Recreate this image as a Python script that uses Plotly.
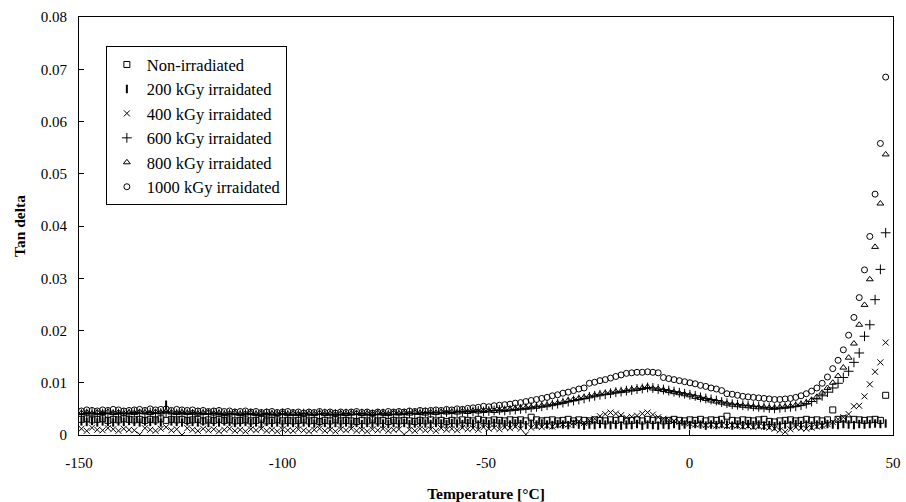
import plotly.graph_objects as go

# temperature grid (°C), shared by all samples
temp = [
    -149.4, -148.1, -146.8, -145.5, -144.2, -142.9, -141.6, -140.3, -139.0, -137.7,
    -136.4, -135.1, -133.8, -132.5, -131.2, -129.9, -128.6, -127.3, -126.0, -124.7,
    -123.4, -122.1, -120.8, -119.5, -118.2, -116.9, -115.6, -114.3, -113.0, -111.7,
    -110.4, -109.1, -107.8, -106.5, -105.2, -103.9, -102.6, -101.3, -100.0, -98.7,
    -97.4, -96.1, -94.8, -93.5, -92.2, -90.9, -89.6, -88.3, -87.0, -85.7,
    -84.4, -83.1, -81.8, -80.5, -79.2, -77.9, -76.6, -75.3, -74.0, -72.7,
    -71.4, -70.1, -68.8, -67.5, -66.2, -64.9, -63.6, -62.3, -61.0, -59.7,
    -58.4, -57.1, -55.8, -54.5, -53.2, -51.9, -50.6, -49.3, -48.0, -46.7,
    -45.4, -44.1, -42.8, -41.5, -40.2, -38.9, -37.6, -36.3, -35.0, -33.7,
    -32.4, -31.1, -29.8, -28.5, -27.2, -25.9, -24.6, -23.3, -22.0, -20.7,
    -19.4, -18.1, -16.8, -15.5, -14.2, -12.9, -11.6, -10.3, -9.0, -7.7,
    -6.4, -5.1, -3.8, -2.5, -1.2, 0.1, 1.4, 2.7, 4.0, 5.3,
    6.6, 7.9, 9.2, 10.5, 11.8, 13.1, 14.4, 15.7, 17.0, 18.3,
    19.6, 20.9, 22.2, 23.5, 24.8, 26.1, 27.4, 28.7, 30.0, 31.3,
    32.6, 33.9, 35.2, 36.5, 37.8, 39.1, 40.4, 41.7, 43.0, 44.3,
    45.6, 46.9, 48.2,
]

tan_0 = [
    .0030, .0031, .0029, .0030, .0031, .0028, .0030, .0029, .0031, .0030,
    .0029, .0030, .0028, .0030, .0029, .0031, .0028, .0030, .0029, .0030,
    .0028, .0029, .0030, .0027, .0029, .0028, .0030, .0028, .0029, .0027,
    .0028, .0029, .0027, .0028, .0030, .0027, .0028, .0029, .0027, .0028,
    .0027, .0028, .0029, .0027, .0028, .0026, .0028, .0027, .0029, .0027,
    .0028, .0027, .0026, .0028, .0027, .0029, .0027, .0028, .0026, .0028,
    .0027, .0028, .0027, .0026, .0028, .0027, .0029, .0027, .0028, .0026,
    .0028, .0027, .0029, .0028, .0027, .0030, .0028, .0027, .0029, .0028,
    .0027, .0029, .0028, .0029, .0027, .0034, .0029, .0027, .0028, .0029,
    .0027, .0028, .0030, .0027, .0029, .0028, .0027, .0029, .0028, .0027,
    .0029, .0028, .0030, .0027, .0028, .0029, .0027, .0030, .0028, .0029,
    .0027, .0028, .0030, .0028, .0027, .0029, .0028, .0030, .0027, .0029,
    .0028, .0030, .0036, .0028, .0027, .0029, .0028, .0027, .0029, .0030,
    .0026, .0025, .0027, .0028, .0029, .0027, .0028, .0030, .0028, .0029,
    .0027, .0029, .0048, .0030, .0031, .0029, .0030, .0029, .0028, .0029,
    .0030, .0028, .0076,
]

tan_200 = [
    .0026, .0025, .0027, .0024, .0026, .0025, .0024, .0026, .0025, .0027,
    .0025, .0024, .0026, .0025, .0027, .0024, .0058, .0026, .0025, .0024,
    .0026, .0025, .0024, .0026, .0023, .0025, .0024, .0026, .0025, .0023,
    .0024, .0025, .0023, .0024, .0022, .0025, .0023, .0024, .0022, .0024,
    .0023, .0022, .0024, .0023, .0022, .0024, .0023, .0021, .0023, .0022,
    .0024, .0022, .0023, .0021, .0023, .0022, .0024, .0022, .0021, .0023,
    .0022, .0023, .0021, .0022, .0024, .0022, .0021, .0023, .0022, .0021,
    .0023, .0022, .0021, .0023, .0022, .0020, .0022, .0021, .0023, .0022,
    .0021, .0020, .0022, .0021, .0019, .0021, .0020, .0022, .0020, .0019,
    .0021, .0020, .0019, .0021, .0020, .0018, .0020, .0019, .0021, .0020,
    .0019, .0020, .0018, .0020, .0019, .0021, .0018, .0020, .0019, .0018,
    .0020, .0019, .0021, .0018, .0020, .0019, .0021, .0020, .0018, .0020,
    .0019, .0021, .0020, .0018, .0020, .0019, .0021, .0019, .0020, .0018,
    .0019, .0017, .0018, .0020, .0019, .0021, .0019, .0020, .0018, .0020,
    .0019, .0021, .0020, .0019, .0021, .0020, .0019, .0021, .0020, .0021,
    .0022, .0021, .0022,
]

tan_400 = [
    .0012, .0008, .0014, .0010, .0009, .0013, .0011, .0008, .0012, .0010,
    .0009, .0001, .0013, .0010, .0008, .0012, .0015, .0009, .0011, .0000,
    .0013, .0010, .0008, .0012, .0009, .0011, .0007, .0010, .0012, .0008,
    .0010, .0007, .0011, .0009, .0012, .0008, .0010, .0007, .0011, .0009,
    .0008, .0011, .0009, .0007, .0010, .0012, .0008, .0010, .0007, .0011,
    .0009, .0012, .0008, .0010, .0007, .0011, .0009, .0012, .0008, .0010,
    .0011, .0001, .0010, .0008, .0012, .0009, .0011, .0008, .0013, .0010,
    .0012, .0009, .0014, .0011, .0013, .0010, .0015, .0012, .0014, .0011,
    .0015, .0013, .0016, .0012, .0001, .0014, .0017, .0015, .0018, .0016,
    .0019, .0021, .0020, .0024, .0026, .0023, .0028, .0031, .0036, .0040,
    .0043, .0041, .0038, .0033, .0035, .0037, .0041, .0043, .0039, .0034,
    .0031, .0029, .0027, .0025, .0023, .0022, .0020, .0021, .0019, .0020,
    .0018, .0019, .0017, .0019, .0018, .0016, .0017, .0015, .0017, .0016,
    .0014, .0012, .0009, .0006, .0011, .0015, .0013, .0012, .0014, .0016,
    .0018, .0021, .0025, .0030, .0034, .0040, .0055, .0056, .0074, .0097,
    .0121, .0139, .0177,
]

tan_600 = [
    .0040, .0041, .0042, .0040, .0041, .0042, .0040, .0041, .0042, .0041,
    .0043, .0041, .0042, .0043, .0041, .0042, .0044, .0042, .0041, .0042,
    .0041, .0040, .0042, .0041, .0040, .0042, .0041, .0039, .0040, .0041,
    .0039, .0040, .0041, .0039, .0040, .0041, .0039, .0040, .0041, .0039,
    .0040, .0039, .0041, .0040, .0039, .0040, .0041, .0039, .0040, .0039,
    .0041, .0040, .0039, .0041, .0040, .0039, .0040, .0041, .0039, .0040,
    .0040, .0041, .0042, .0041, .0042, .0043, .0042, .0043, .0042, .0044,
    .0043, .0044, .0045, .0044, .0045, .0046, .0045, .0046, .0047, .0048,
    .0047, .0048, .0049, .0050, .0051, .0053, .0054, .0055, .0057, .0058,
    .0060, .0062, .0064, .0066, .0068, .0070, .0073, .0075, .0077, .0078,
    .0080, .0082, .0083, .0085, .0086, .0088, .0089, .0091, .0090, .0088,
    .0087, .0085, .0083, .0081, .0079, .0077, .0075, .0072, .0070, .0068,
    .0066, .0063, .0061, .0059, .0058, .0057, .0056, .0055, .0054, .0053,
    .0052, .0051, .0052, .0053, .0054, .0055, .0057, .0060, .0064, .0069,
    .0075, .0082, .0090, .0099, .0110, .0122, .0139, .0157, .0189, .0211,
    .0259, .0317, .0387,
]

tan_800 = [
    .0042, .0043, .0041, .0043, .0042, .0044, .0042, .0043, .0041, .0043,
    .0042, .0044, .0043, .0042, .0044, .0043, .0045, .0043, .0042, .0043,
    .0042, .0043, .0041, .0042, .0043, .0041, .0042, .0040, .0041, .0042,
    .0040, .0041, .0042, .0040, .0041, .0039, .0041, .0040, .0042, .0040,
    .0041, .0040, .0039, .0041, .0040, .0042, .0040, .0041, .0039, .0041,
    .0040, .0041, .0042, .0040, .0041, .0040, .0042, .0041, .0040, .0042,
    .0041, .0042, .0041, .0043, .0042, .0041, .0043, .0042, .0044, .0043,
    .0044, .0043, .0045, .0044, .0046, .0045, .0046, .0047, .0046, .0047,
    .0048, .0049, .0050, .0051, .0052, .0053, .0054, .0056, .0057, .0059,
    .0061, .0063, .0066, .0068, .0070, .0072, .0074, .0076, .0078, .0080,
    .0081, .0083, .0084, .0085, .0087, .0088, .0090, .0092, .0089, .0088,
    .0086, .0084, .0082, .0080, .0078, .0076, .0073, .0071, .0069, .0066,
    .0064, .0062, .0060, .0058, .0057, .0056, .0055, .0054, .0053, .0053,
    .0052, .0052, .0053, .0054, .0055, .0057, .0059, .0062, .0067, .0073,
    .0081, .0090, .0100, .0113, .0129, .0148, .0175, .0211, .0249, .0298,
    .0360, .0443, .0537,
]

tan_1000 = [
    .0046, .0048, .0047, .0046, .0048, .0047, .0049, .0048, .0046, .0047,
    .0048, .0049, .0047, .0050, .0048, .0049, .0050, .0047, .0049, .0048,
    .0047, .0048, .0046, .0047, .0045, .0046, .0047, .0045, .0046, .0044,
    .0045, .0046, .0044, .0045, .0043, .0044, .0045, .0043, .0044, .0045,
    .0043, .0044, .0042, .0044, .0043, .0045, .0043, .0044, .0042, .0044,
    .0043, .0044, .0045, .0043, .0044, .0042, .0044, .0043, .0045, .0044,
    .0045, .0044, .0046, .0045, .0047, .0046, .0047, .0048, .0047, .0049,
    .0048, .0050, .0049, .0051, .0052, .0053, .0055, .0054, .0056, .0057,
    .0058, .0059, .0061, .0062, .0064, .0066, .0068, .0070, .0072, .0075,
    .0077, .0080, .0082, .0085, .0088, .0090, .0099, .0101, .0104, .0106,
    .0109, .0112, .0115, .0118, .0119, .0120, .0120, .0121, .0120, .0119,
    .0110, .0108, .0106, .0104, .0102, .0100, .0098, .0095, .0093, .0090,
    .0088, .0085, .0079, .0078, .0076, .0074, .0073, .0072, .0071, .0070,
    .0069, .0068, .0068, .0069, .0070, .0072, .0075, .0079, .0084, .0090,
    .0099, .0111, .0127, .0143, .0163, .0191, .0225, .0263, .0316, .0380,
    .0461, .0558, .0685,
]

x_ticks = [-150, -100, -50, 0, 50]
x_labels = ["-150", "-100", "-50", "0", "50"]
y_ticks = [0, 0.01, 0.02, 0.03, 0.04, 0.05, 0.06, 0.07, 0.08]
y_labels = ["0", "0.01", "0.02", "0.03", "0.04", "0.05", "0.06", "0.07", "0.08"]

series = [
    ("Non-irradiated", tan_0, "square-open", 6, 1),
    ("200 kGy irraidated", tan_200, "line-ns-open", 6, 2),
    ("400 kGy irraidated", tan_400, "x-thin-open", 6, 1),
    ("600 kGy irraidated", tan_600, "cross-thin-open", 7, 1),
    ("800 kGy irraidated", tan_800, "triangle-up-open", 6, 1),
    ("1000 kGy irraidated", tan_1000, "circle-open", 6, 1),
]

fig = go.Figure()
for name, vals, sym, size, lw in series:
    fig.add_trace(go.Scatter(
        x=temp, y=vals, mode="markers", name=name,
        marker=dict(symbol=sym, size=size, color="black",
                    line=dict(color="black", width=lw)),
    ))

serif = "Liberation Serif, Times New Roman, serif"
fig.update_layout(
    width=906, height=502,
    margin=dict(l=79, r=13, t=17, b=67),
    paper_bgcolor="white", plot_bgcolor="white",
    font=dict(family=serif, size=15, color="black"),
    showlegend=True,
    legend=dict(
        x=0.033, y=0.93, xanchor="left", yanchor="top",
        bgcolor="white", bordercolor="black", borderwidth=1,
        font=dict(family=serif, size=16.5, color="black"),
        itemwidth=30, tracegroupgap=0,
    ),
)
fig.update_xaxes(
    range=[-150, 50], tickvals=x_ticks, ticktext=x_labels,
    showline=True, linecolor="black", linewidth=1, mirror=True,
    ticks="inside", ticklen=5, tickcolor="black",
    showgrid=False, zeroline=False, automargin=False,
    ticklabelstandoff=14,
    title=dict(text="<b>Temperature [°C]</b>", font=dict(family=serif, size=15.5), standoff=20),
)
fig.update_yaxes(
    range=[0, 0.08], tickvals=y_ticks, ticktext=y_labels,
    showline=True, linecolor="black", linewidth=1, mirror=True,
    ticks="inside", ticklen=5, tickcolor="black",
    showgrid=False, zeroline=False, automargin=False,
    ticklabelstandoff=8,
    title=dict(text="<b>Tan delta</b>", font=dict(family=serif, size=15.5), standoff=11),
)

fig.write_html("out.html", config={"displayModeBar": False},
               post_script="document.body.style.margin='0';")
